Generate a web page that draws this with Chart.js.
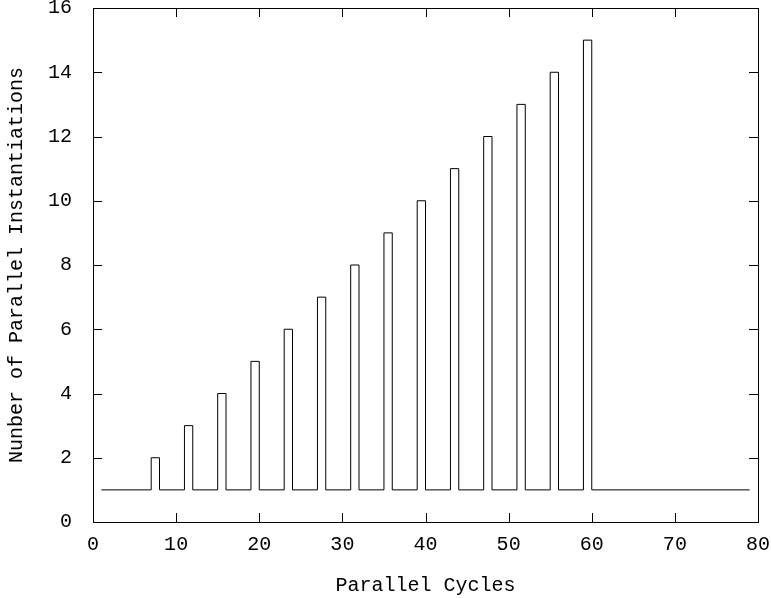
<!DOCTYPE html>
<html>
<head>
<meta charset="utf-8">
<script src="https://cdn.jsdelivr.net/npm/chart.js@4"></script>
<style>
  html, body { margin: 0; padding: 0; background: #fff; }
  #chart { display: block; }
</style>
</head>
<body>
<canvas id="chart" width="771" height="598"></canvas>
<script>
// Breakpoints of the step curve (value holds until the next cycle)
const cycles = [1, 7, 8, 11, 12, 15, 16, 19, 20, 23, 24, 27, 28, 31, 32, 35, 36, 39, 40, 43, 44, 47, 48, 51, 52, 55, 56, 59, 60, 79];
const instantiations = [1, 2, 1, 3, 1, 4, 1, 5, 1, 6, 1, 7, 1, 8, 1, 9, 1, 10, 1, 11, 1, 12, 1, 13, 1, 14, 1, 15, 1, 1];

const xTicks = [0, 10, 20, 30, 40, 50, 60, 70, 80];
const yTicks = [0, 2, 4, 6, 8, 10, 12, 14, 16];

const FONT = "'Liberation Mono', 'DejaVu Sans Mono', monospace";
const TICK_LEN = 9;

// gnuplot-like frame: full border with inward ticks on all four sides
const framePlugin = {
  id: 'frame',
  afterDraw(chart) {
    const { ctx, chartArea: a, scales } = chart;
    ctx.save();
    ctx.strokeStyle = '#000';
    ctx.lineWidth = 1;
    ctx.beginPath();
    xTicks.forEach((v) => {
      const x = Math.round(scales.x.getPixelForValue(v)) + 0.5;
      ctx.moveTo(x, a.bottom);
      ctx.lineTo(x, a.bottom - TICK_LEN);
      ctx.moveTo(x, a.top);
      ctx.lineTo(x, a.top + TICK_LEN);
    });
    yTicks.forEach((v) => {
      const y = Math.round(scales.y.getPixelForValue(v)) + 0.5;
      ctx.moveTo(a.left, y);
      ctx.lineTo(a.left + TICK_LEN, y);
      ctx.moveTo(a.right, y);
      ctx.lineTo(a.right - TICK_LEN, y);
    });
    ctx.stroke();
    ctx.strokeRect(Math.round(a.left) + 0.5, Math.round(a.top) + 0.5,
      Math.round(a.right - a.left), Math.round(a.bottom - a.top));
    ctx.restore();
  },
};

new Chart(document.getElementById('chart'), {
  type: 'line',
  data: {
    datasets: [{
      data: cycles.map((c, i) => ({ x: c, y: instantiations[i] })),
      borderColor: '#000',
      borderWidth: 1,
      pointRadius: 0,
      stepped: 'before',
      fill: false,
    }],
  },
  options: {
    responsive: false,
    animation: false,
    layout: { autoPadding: false, padding: { top: 8, right: 13, left: 0, bottom: 0 } },
    plugins: {
      legend: { display: false },
      tooltip: { enabled: false },
    },
    scales: {
      x: {
        type: 'linear',
        min: 0,
        max: 80,
        afterBuildTicks(scale) { scale.ticks = xTicks.map((v) => ({ value: v })); },
        afterFit(scale) {
          scale.height = 76;
          scale.paddingLeft = 0;
          scale.paddingRight = 0;
        },
        ticks: { color: '#000', font: { family: FONT, size: 20 }, padding: 3, maxRotation: 0 },
        grid: { display: false },
        border: { display: false },
        title: {
          display: true,
          text: 'Parallel Cycles',
          color: '#000',
          font: { family: FONT, size: 20 },
          padding: { top: 0, bottom: 0 },
        },
      },
      y: {
        min: 0,
        max: 16,
        afterBuildTicks(scale) { scale.ticks = yTicks.map((v) => ({ value: v })); },
        afterFit(scale) {
          scale.width = 93;
          scale.paddingTop = 0;
          scale.paddingBottom = 0;
        },
        ticks: { color: '#000', font: { family: FONT, size: 20 }, padding: 13 },
        grid: { display: false },
        border: { display: false },
        title: {
          display: true,
          text: 'Nunber of Parallel Instantiations',
          color: '#000',
          font: { family: FONT, size: 20 },
          padding: { top: 5, bottom: 0 },
        },
      },
    },
  },
  plugins: [framePlugin],
});
</script>
</body>
</html>
